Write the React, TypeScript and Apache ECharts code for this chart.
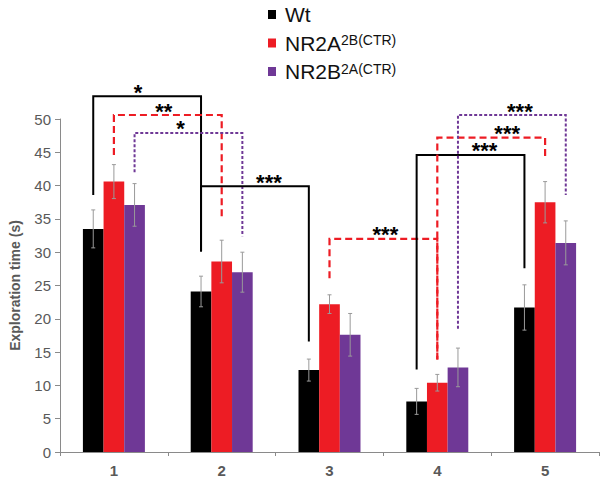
import React, { useEffect, useRef } from "react";
import * as echarts from "echarts";

const categories = ["1", "2", "3", "4", "5"];
const seriesNames = ["Wt", "NR2A|2B(CTR)", "NR2B|2A(CTR)"];
const wtValues = [33.5, 24.1, 12.3, 7.6, 21.7];
const wtErrors = [2.85, 2.3, 1.65, 1.95, 3.4];
const nr2aValues = [40.6, 28.6, 22.2, 10.4, 37.5];
const nr2aErrors = [2.55, 3.2, 1.4, 1.25, 3.1];
const nr2bValues = [37.1, 27.0, 17.6, 12.7, 31.4];
const nr2bErrors = [3.2, 3.0, 3.2, 2.9, 3.3];
const yTicks = { min: 0, max: 50, interval: 5 };

// significance brackets: from [category, series] to [category, series], leg ends and top level in data units
const brackets = [
  { from: [0, 0], to: [1, 0], leftEnd: 38.6, rightEnd: 30.1, top: 53.4, label: "*", kind: 0, shift: -9 },
  { from: [0, 1], to: [1, 1], leftEnd: 44.6, rightEnd: 34.9, top: 50.6, label: "**", kind: 1, shift: -4 },
  { from: [0, 2], to: [1, 2], leftEnd: 42.0, rightEnd: 32.4, top: 47.9, label: "*", kind: 2, shift: -8 },
  { from: [1, 0], to: [2, 0], leftEnd: 30.1, rightEnd: 16.6, top: 39.9, label: "***", kind: 0, shift: 14 },
  { from: [2, 1], to: [3, 1], leftEnd: 26.1, rightEnd: 13.9, top: 32.0, label: "***", kind: 1, shift: 2 },
  { from: [3, 0], to: [4, 0], leftEnd: 12.4, rightEnd: 27.6, top: 44.6, label: "***", kind: 0, shift: 14 },
  { from: [3, 1], to: [4, 1], leftEnd: 13.9, rightEnd: 44.4, top: 47.2, label: "***", kind: 1, shift: 16 },
  { from: [3, 2], to: [4, 2], leftEnd: 18.5, rightEnd: 38.6, top: 50.6, label: "***", kind: 2, shift: 8 },
];

const colors = ["#000000", "#ED1C24", "#6F3896"];
const dashes: any[] = [null, [7, 4], [3, 2]];
const FONT = "Arial, 'Liberation Sans', sans-serif";
const CAT_GAP = 0.425;

export default function App() {
  const ref = useRef<HTMLDivElement>(null);
  useEffect(() => {
    if (!ref.current) return;
    const chart = echarts.init(ref.current, undefined, { renderer: "svg" });
    const allValues = [wtValues, nr2aValues, nr2bValues];
    const allErrors = [wtErrors, nr2aErrors, nr2bErrors];
    const errData: number[][] = [];
    allValues.forEach((vals, s) =>
      vals.forEach((v, c) => errData.push([c, v, allErrors[s][c], s]))
    );
    const barWidthOf = (api: any) => (api.size([1, 0])[0] * (1 - CAT_GAP)) / 3;

    const option: any = {
      animation: false,
      textStyle: { fontFamily: FONT },
      grid: { left: 58, right: 1, top: 119, bottom: 26, containLabel: false },
      legend: {
        orient: "vertical",
        left: 263,
        top: -1,
        itemWidth: 8,
        itemHeight: 9,
        itemGap: 7,
        icon: "rect",
        data: seriesNames,
        formatter: (name: string) => {
          const parts = name.split("|");
          return parts.length > 1 ? `{m|${parts[0]}}{s|${parts[1]}}` : `{m|${name}}`;
        },
        textStyle: {
          padding: [0, 0, 0, 4],
          rich: {
            m: { fontSize: 21, lineHeight: 22, color: "#111", fontFamily: FONT },
            s: { fontSize: 14, lineHeight: 14, color: "#111", fontFamily: FONT, verticalAlign: "top", padding: [1, 0, 0, 0] },
          },
        },
      },
      xAxis: {
        type: "category",
        data: categories,
        axisLine: { lineStyle: { color: "#8a8a8a", width: 1 } },
        axisTick: { show: true, length: 4, lineStyle: { color: "#8a8a8a" } },
        axisLabel: { color: "#595959", fontSize: 15, fontWeight: "bold", margin: 11, fontFamily: FONT },
      },
      yAxis: {
        type: "value",
        min: yTicks.min,
        max: yTicks.max,
        interval: yTicks.interval,
        name: "Exploration time (s)",
        nameLocation: "middle",
        nameGap: 38,
        nameTextStyle: { color: "#595959", fontSize: 14, fontWeight: "bold", fontFamily: FONT },
        axisLine: { show: true, lineStyle: { color: "#8a8a8a", width: 1 } },
        axisTick: { show: true, length: 5, lineStyle: { color: "#8a8a8a" } },
        axisLabel: { color: "#595959", fontSize: 15, margin: 9, fontFamily: FONT },
        splitLine: { show: false },
      },
      series: [
        ...allValues.map((vals, s) => ({
          name: seriesNames[s],
          type: "bar",
          data: vals,
          barGap: "0%",
          barCategoryGap: `${CAT_GAP * 100}%`,
          itemStyle: { color: colors[s] },
        })),
        {
          type: "custom",
          name: "errors",
          data: errData,
          z: 5,
          clip: false,
          renderItem: (params: any, api: any) => {
            const [c, v, e, s] = errData[params.dataIndex];
            const bw = barWidthOf(api);
            const x = api.coord([c, 0])[0] + (s - 1) * bw;
            const yT = api.coord([c, v + e])[1];
            const yB = api.coord([c, v - e])[1];
            const st = { stroke: "#9a9a9a", lineWidth: 1 };
            return {
              type: "group",
              children: [
                { type: "line", shape: { x1: x, y1: yT, x2: x, y2: yB }, style: st },
                { type: "line", shape: { x1: x - 2, y1: yT, x2: x + 2, y2: yT }, style: st },
                { type: "line", shape: { x1: x - 2, y1: yB, x2: x + 2, y2: yB }, style: st },
              ],
            };
          },
        },
        {
          type: "custom",
          name: "brackets",
          data: brackets.map((b) => [b.from[0], b.top]),
          z: 6,
          clip: false,
          renderItem: (params: any, api: any) => {
            const b = brackets[params.dataIndex];
            const bw = barWidthOf(api);
            const x1 = api.coord([b.from[0], 0])[0] + (b.from[1] - 1) * bw;
            const x2 = api.coord([b.to[0], 0])[0] + (b.to[1] - 1) * bw;
            const yT = api.coord([0, b.top])[1];
            const yL = api.coord([0, b.leftEnd])[1];
            const yR = api.coord([0, b.rightEnd])[1];
            return {
              type: "group",
              children: [
                {
                  type: "polyline",
                  shape: { points: [[x1, yL], [x1, yT], [x2, yT], [x2, yR]] },
                  style: {
                    stroke: colors[b.kind],
                    lineWidth: b.kind === 1 ? 2.2 : 2,
                    fill: null,
                    lineDash: dashes[b.kind],
                  },
                },
                {
                  type: "text",
                  style: {
                    text: b.label,
                    x: (x1 + x2) / 2 + b.shift,
                    y: yT - 4,
                    fill: "#000",
                    fontSize: 22,
                    lineHeight: 11,
                    fontWeight: "bold",
                    fontFamily: FONT,
                    align: "center",
                    verticalAlign: "middle",
                  },
                },
              ],
            };
          },
        },
      ],
    };
    chart.setOption(option);
    return () => chart.dispose();
  }, []);
  return (
    <div
      ref={ref}
      style={{ position: "absolute", left: 0, top: 0, width: 600, height: 478, background: "#fff" }}
    />
  );
}
